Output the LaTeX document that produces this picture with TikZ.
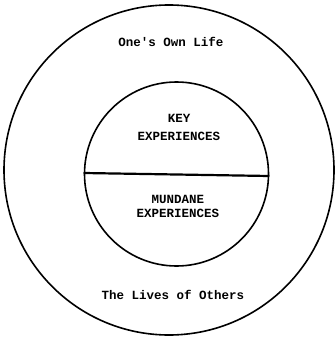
\documentclass[tikz,border=0pt]{standalone}
\usepackage{fontspec}
\newfontfamily\labelfont{Liberation Mono}
\usetikzlibrary{positioning}

\begin{document}
\begin{tikzpicture}[x=1pt,y=-1pt,
 ring/.style={draw,circle,inner sep=0pt,line width=1.6pt},
 lbl/.style={font=\labelfont\bfseries\fontsize{12.5}{14}\selectfont,align=center,inner sep=1pt}]
\useasboundingbox (0,0) rectangle (336,337);
\node[ring,minimum size=330pt] (life) at (169,170) {};
\node[ring,minimum size=184pt] (exp) at (176.5,174) {};
\draw[line width=2.2pt] ([yshift=1pt]exp.west) -- ([yshift=-2pt]exp.east);
\node[lbl] (own) at (171,42) {One's Own Life};
\node[lbl] (key) at (179,127) {KEY\\[4pt]EXPERIENCES};
\node[lbl] (mundane) at (178,206) {MUNDANE\\EXPERIENCES};
\node[lbl] (others) at (173,295) {The Lives of Others};
\end{tikzpicture}
\end{document}
